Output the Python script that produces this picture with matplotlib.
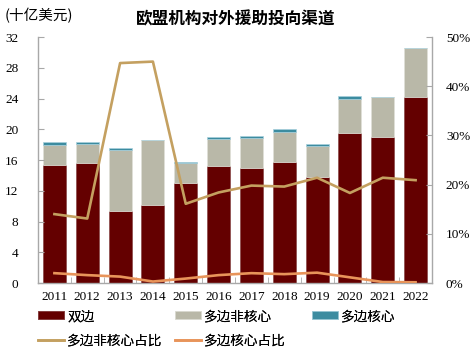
import matplotlib
matplotlib.use('Agg')
import matplotlib.pyplot as plt
import numpy as np

plt.rcParams['font.family'] = ['Noto Sans CJK SC', 'DejaVu Sans']

# 数据（十亿美元 / %）
years = ['2011', '2012', '2013', '2014', '2015', '2016',
         '2017', '2018', '2019', '2020', '2021', '2022']
bilateral = [15.4, 15.65, 9.4, 10.15, 13.05, 15.2, 14.95, 15.75, 13.8, 19.55, 18.95, 24.15]
multi_noncore = [2.6, 2.45, 7.85, 8.4, 2.55, 3.5, 3.85, 3.95, 4.0, 4.45, 5.2, 6.4]
multi_core = [0.3, 0.3, 0.25, 0.05, 0.15, 0.3, 0.35, 0.3, 0.3, 0.3, 0.05, 0.05]
noncore_share = [14.0, 13.1, 44.7, 45.0, 16.1, 18.4, 19.8, 19.6, 21.4, 18.3, 21.4, 20.9]
core_share = [2.0, 1.6, 1.3, 0.3, 0.9, 1.6, 2.0, 1.8, 2.1, 1.15, 0.2, 0.15]

c_bi = '#640000'
c_nc = '#B9B8A8'
c_core = '#3C8CA0'
c_ncs = '#C4A060'
c_cs = '#E8945A'
serif = 'Liberation Serif'

fig = plt.figure(figsize=(4.72, 3.55), dpi=100)
ax = fig.add_axes([38 / 472, 1 - 283 / 355, 394 / 472, 246 / 355])
ax2 = ax.twinx()

x = np.arange(len(years))
w = 0.7
bot2 = np.array(bilateral) + np.array(multi_noncore)
b1 = ax.bar(x, bilateral, w, color=c_bi, edgecolor='#8A4848', linewidth=0.5, label='双边')
b2 = ax.bar(x, multi_noncore, w, bottom=bilateral, color=c_nc, edgecolor='#E0E0D8',
            linewidth=0.5, label='多边非核心')
b3 = ax.bar(x, multi_core, w, bottom=bot2, color=c_core, edgecolor='#A8D0DC',
            linewidth=0.5, label='多边核心')

l1, = ax2.plot(x, noncore_share, color=c_ncs, lw=1.9, label='多边非核心占比')
l2, = ax2.plot(x, core_share, color=c_cs, lw=1.9, label='多边核心占比')

ax.set_xlim(-0.5, 11.5)
ax.set_ylim(0, 32)
ax.set_yticks(range(0, 33, 4))
ax2.set_ylim(0, 50)
ax2.set_yticks(range(0, 51, 10))
ax2.set_yticklabels([f'{v}%' for v in range(0, 51, 10)])

ax.set_xticks(x)
ax.set_xticklabels(years)
ax.set_xticks(np.arange(-0.5, 12, 1), minor=True)

for a in (ax, ax2):
    a.spines['top'].set_visible(False)
    for s in ('left', 'right', 'bottom'):
        a.spines[s].set_color('#A8A8A8')
        a.spines[s].set_linewidth(1.0)
ax.spines['right'].set_visible(False)
ax2.spines['left'].set_visible(False)
ax2.spines['bottom'].set_visible(False)

ax.tick_params(axis='y', direction='in', length=4, color='#A8A8A8', pad=14,
               labelsize=9.5)
ax.tick_params(axis='x', which='major', length=0, pad=6, labelsize=9.5)
ax.tick_params(axis='x', which='minor', direction='in', length=4, color='#A8A8A8')
ax2.tick_params(axis='y', direction='in', length=4, color='#A8A8A8', pad=10,
                labelsize=9.5)
for lab in ax.get_xticklabels() + ax.get_yticklabels() + ax2.get_yticklabels():
    lab.set_family(serif)

fig.text(5 / 472, 1 - 16 / 355, '(十亿美元)', fontsize=10.5, va='center', ha='left')
fig.text(236 / 472, 1 - 19 / 355, '欧盟机构对外援助投向渠道', fontsize=12,
         fontweight='bold', va='center', ha='center')

# 图例：三列等宽，逐列放置
cols = [([b1, l1], ['双边', '多边非核心占比'], 38),
        ([b2, l2], ['多边非核心', '多边核心占比'], 175),
        ([b3], ['多边核心'], 312)]
for hs, ls, xpos in cols:
    leg = fig.legend(hs, ls, loc='upper left',
                     bbox_to_anchor=(xpos / 472, 1 - 309 / 355), frameon=False,
                     fontsize=9.8, handlelength=1.9, handleheight=0.5,
                     handletextpad=0.25, labelspacing=0.75,
                     borderaxespad=0, borderpad=0)
    fig.add_artist(leg)

fig.savefig('out.png', dpi=100)
